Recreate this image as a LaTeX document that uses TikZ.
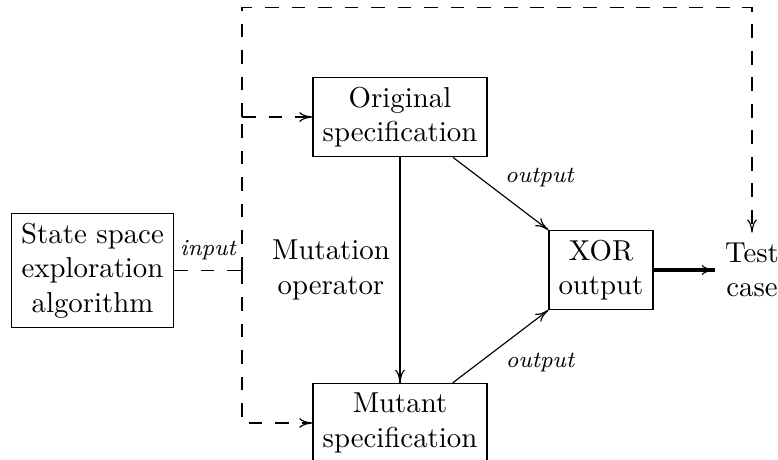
\documentclass[tikz,border=0pt]{standalone}
\usetikzlibrary{calc,arrows.meta}
\begin{document}
\begin{tikzpicture}[x=0.347pt,y=-0.347pt,
  >={Computer Modern Rightarrow[length=4.6pt,width=3.4pt]},
  box/.style={draw, align=center},
  lbl/.style={font=\footnotesize\itshape},
  dashes/.style={dash pattern=on 4.8pt off 4.4pt}]
\useasboundingbox (0,0) rectangle (778,459);

% blocks
\node[box] (alg)  at (92.5,270.5) {State space\\exploration\\algorithm};
\node[box] (orig) at (400,117) {Original\\specification};
\node[box] (mut)  at (400,423) {Mutant\\specification};
\node[box] (xor)  at (601,270) {XOR\\output};
\node[align=center] (test) at (752,270) {Test\\case};

% branching points of the input line
\coordinate (split) at (242,270.5);
\coordinate (top)   at (242,7.5);
\coordinate (oj)    at (split |- orig);

% input distribution (dashed)
\draw[dashes] (alg) -- node[lbl, above] {input} (split);
\draw[dashes,->] (split) |- (mut);
\draw[dashes] (split) -- (oj);
\draw[dashes,->] (oj) -- (orig);
\draw[dashes,->] (oj) -- (top) -| (test);

% mutation
\draw[thick] (orig) -- (mut);
\draw[->] (orig) -- node[midway, left, align=center] {Mutation\\operator} (mut);

% outputs to the XOR block
\draw[->] (orig) -- node[lbl, pos=0.45, anchor=south west, inner sep=1pt, xshift=2] {output} (xor);
\draw[->] (mut) -- node[lbl, pos=0.46, anchor=north west, inner sep=1pt, xshift=2] {output} (xor);

% result
\draw[very thick] (xor) -- (test);
\draw[->] (xor) -- (test);
\end{tikzpicture}
\end{document}
